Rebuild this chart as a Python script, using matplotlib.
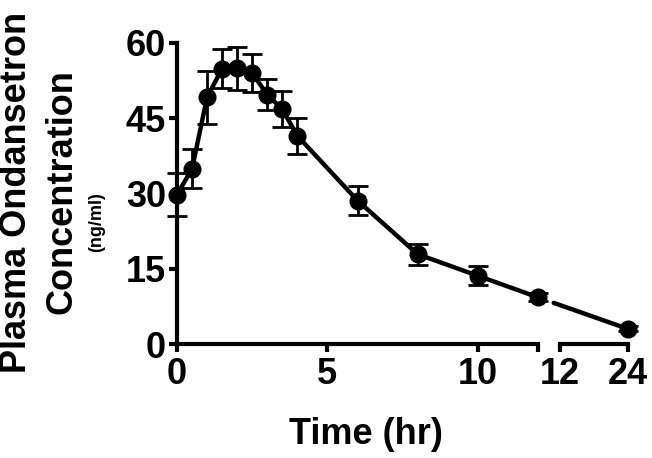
import numpy as np
import matplotlib.pyplot as plt
from matplotlib.patches import ConnectionPatch

plt.rcParams['font.family'] = ['Liberation Sans', 'DejaVu Sans']
plt.rcParams['font.weight'] = 'bold'

# Mean plasma ondansetron concentration (ng/ml) with error bars
times = np.array([0, 0.5, 1, 1.5, 2, 2.5, 3, 3.5, 4, 6, 8, 10, 12, 24])
conc = np.array([29.8, 34.9, 49.2, 54.9, 55.0, 54.0, 49.7, 46.8, 41.5, 28.6, 17.9, 13.6, 9.3, 3.0])
sem = np.array([4.2, 3.9, 5.3, 3.9, 4.3, 3.8, 3.1, 3.6, 3.6, 2.8, 2.1, 1.9, 0.8, 0.5])

left_ticks = [0, 5, 10, 12]
left_ticklabels = ['0', '5', '10', '']
right_ticks = [12, 24]
right_ticklabels = ['12', '24']
y_ticks = [0, 15, 30, 45, 60]

fig = plt.figure(figsize=(6.52, 4.58), dpi=100)
ax1 = fig.add_axes([177 / 652, 1 - 344 / 458, 361 / 652, 301 / 458])
ax2 = fig.add_axes([560 / 652, 1 - 344 / 458, 68 / 652, 301 / 458])

style = dict(fmt='o', color='black', ms=12, elinewidth=2, capsize=7, capthick=2)

mask = times <= 12
eb1 = ax1.errorbar(times[mask], conc[mask], yerr=sem[mask], **style)
ax1.plot(times[mask], conc[mask], color='black', lw=3.2, clip_on=False)
eb2 = ax2.errorbar(times[~mask], conc[~mask], yerr=sem[~mask], **style)
for eb in (eb1, eb2):
    for art in eb.lines[0:1] + eb.lines[1] + eb.lines[2]:
        art.set_clip_on(False)

# connecting segment across the axis break
con = ConnectionPatch(xyA=(12, conc[mask][-1]), coordsA=ax1.transData,
                      xyB=(24, conc[~mask][-1]), coordsB=ax2.transData,
                      arrowstyle='-', lw=3.2, color='black', shrinkA=12, shrinkB=0)
fig.add_artist(con)

ax1.set_xlim(0, 12)
ax2.set_xlim(12, 24)
for ax in (ax1, ax2):
    ax.set_ylim(0, 60)
    ax.spines['top'].set_visible(False)
    ax.spines['right'].set_visible(False)
    ax.spines['bottom'].set_linewidth(3)
    ax.spines['left'].set_linewidth(3)
    ax.tick_params(width=3, length=6, labelsize=26, pad=3)

ax1.set_xticks(left_ticks)
ax1.set_xticklabels(left_ticklabels, fontweight='bold')
ax1.set_yticks(y_ticks)
ax1.set_yticklabels([str(v) for v in y_ticks], fontweight='bold')
ax1.tick_params(axis='y', pad=2)

ax2.set_xticks(right_ticks)
ax2.set_xticklabels(right_ticklabels, fontweight='bold')
ax2.spines['left'].set_visible(False)
ax2.set_yticks([])

fig.text(366 / 652, 1 - 434 / 458, 'Time (hr)', ha='center', va='center',
         fontsize=26, fontweight='bold')
fig.text(17 / 652, 1 - 192 / 458, 'Plasma Ondansetron', rotation=90,
         ha='center', va='center', fontsize=26, fontweight='bold')
fig.text(62 / 652, 1 - 192 / 458, 'Concentration', rotation=90,
         ha='center', va='center', fontsize=26, fontweight='bold')
fig.text(97 / 652, 1 - 222 / 458, '(ng/ml)', rotation=90,
         ha='center', va='center', fontsize=13, fontweight='bold')

fig.savefig('out.png', dpi=100)
